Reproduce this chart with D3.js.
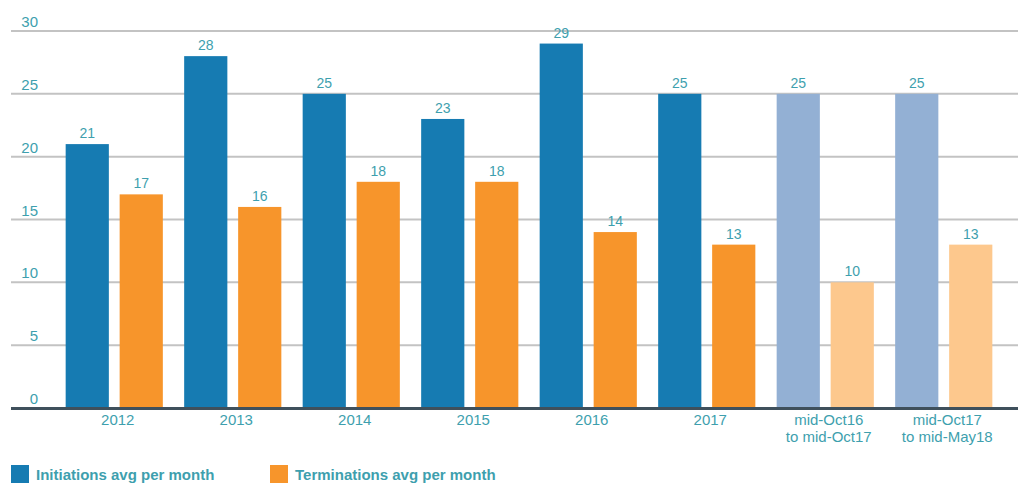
<!DOCTYPE html>
<html><head><meta charset="utf-8">
<script src="https://cdn.jsdelivr.net/npm/d3@7"></script>
<style>body{margin:0;background:#fff}svg{display:block;font-family:"Liberation Sans",Arial,sans-serif}</style>
</head><body><svg id="c" width="1018" height="484"></svg>
<script>
const categories = ["2012","2013","2014","2015","2016","2017","mid-Oct16\nto mid-Oct17","mid-Oct17\nto mid-May18"];
const initiations = [21,28,25,23,29,25,25,25];
const terminations = [17,16,18,18,14,13,10,13];
const highlighted = [false,false,false,false,false,false,true,true];
const yTicks = [0,5,10,15,20,25,30];
const seriesNames = ["Initiations avg per month","Terminations avg per month"];

const colors = {init:"#167bb2", term:"#f7952b", initLight:"#93b0d4", termLight:"#fdc88d"};
const teal = "#3e9fae";
const svg = d3.select("#c");
const y = d3.scaleLinear().domain([0,30]).range([408,31]);
const x0 = d3.scaleBand().domain(categories).range([55,1003]).paddingInner(0.18).paddingOuter(0.09);
const x1 = d3.scaleBand().domain(["init","term"]).range([0,x0.bandwidth()]).paddingInner(0.2).paddingOuter(0);

// gridlines
svg.append("g").selectAll("line").data(yTicks.filter(d=>d>0)).join("line")
  .attr("x1",11).attr("x2",1018).attr("y1",d=>y(d)).attr("y2",d=>y(d))
  .attr("stroke","#c3c3c3").attr("stroke-width",2);
svg.append("g").selectAll("text").data(yTicks).join("text")
  .attr("x",38).attr("y",d=>y(d)-4).attr("text-anchor","end")
  .attr("font-size",15).attr("fill",teal).text(d=>d);

const data = categories.map((c,i)=>({c, i, init:initiations[i], term:terminations[i], hl:highlighted[i]}));
const g = svg.append("g").selectAll("g").data(data).join("g").attr("transform",d=>`translate(${x0(d.c)},0)`);
["init","term"].forEach(k=>{
  g.append("rect").attr("x",x1(k)).attr("width",x1.bandwidth())
    .attr("y",d=>y(d[k])).attr("height",d=>y(0)-y(d[k]))
    .attr("fill",d=>d.hl ? colors[k+"Light"] : colors[k]);
  g.append("text").attr("x",x1(k)+x1.bandwidth()/2).attr("y",d=>y(d[k])-6)
    .attr("text-anchor","middle").attr("font-size",14).attr("fill",teal).text(d=>d[k]);
});

// axis
svg.append("line").attr("x1",11).attr("x2",1018).attr("y1",408.5).attr("y2",408.5).attr("stroke","#3f505c").attr("stroke-width",3);
const xl = svg.append("g").selectAll("text").data(data).join("text")
  .attr("text-anchor","middle").attr("font-size",15).attr("fill",teal)
  .attr("transform",d=>`translate(${x0(d.c)+x0.bandwidth()/2+3.5},425)`);
xl.selectAll("tspan").data(d=>d.c.split("\n")).join("tspan").attr("x",0).attr("dy",(d,i)=>i?17:0).text(d=>d);

// legend
const leg = svg.append("g").selectAll("g").data(seriesNames).join("g").attr("transform",(d,i)=>`translate(${i?270:11},465)`);
leg.append("rect").attr("width",18).attr("height",18).attr("fill",(d,i)=>i?colors.term:colors.init);
leg.append("text").attr("x",25).attr("y",15).attr("font-size",15).attr("font-weight","bold").attr("fill",teal).text(d=>d);
</script></body></html>
